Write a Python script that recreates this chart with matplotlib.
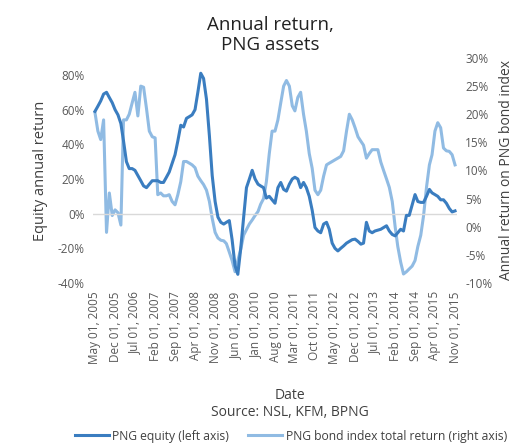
import numpy as np
import pandas as pd
import matplotlib
matplotlib.use("Agg")
import matplotlib.pyplot as plt
from matplotlib.ticker import FuncFormatter

plt.rcParams['font.family'] = ['Open Sans', 'DejaVu Sans']

# monthly series, May 2005 .. Nov 2015
dates = pd.date_range("2005-05-01", "2015-11-01", freq="MS")

# PNG equity annual return (%), left axis
equity = [59, 62, 65, 69, 70, 67, 64, 60, 57, 52,
          42, 30, 26, 26, 25, 22, 19, 16, 15, 17,
          19, 19, 19, 18, 18, 21, 24, 29, 34, 42,
          51, 50, 55, 56, 57, 60, 70, 81, 78, 66,
          45, 22, 7, -2, -5, -6, -5, -4, -15, -30,
          -35, -20, -2, 15, 20, 25, 20, 17, 16, 15,
          9, 10, 8, 6, 15, 18, 14, 13, 17, 20,
          21, 20, 15, 18, 15, 10, 2, -8, -10, -11,
          -6, -5, -9, -17, -20, -21.5, -20, -18.6, -17, -16,
          -15, -14.7, -16, -17.6, -17, -5, -10, -11, -10, -9.5,
          -9, -8, -7, -10, -12, -12.8, -11, -9, -10, -1,
          -1, 5, 11, 7, 6.5, 6.5, 10, 14, 12, 11,
          10, 8, 8, 6, 3, 1, 1.6]

# PNG bond index total return (%), right axis
bond = [20.3, 17, 15.5, 19, -1, 6, 2, 3, 2.5, 0.3,
        19, 19, 20, 22, 23.9, 19.7, 25, 24.8, 21, 17,
        16, 15.8, 5.7, 6, 5.5, 5.5, 5.7, 4.5, 3.9, 5.7,
        8, 11.6, 11.6, 11.3, 11, 10.5, 9, 8.2, 7.5, 6.5,
        4.5, 1.5, -1, -2, -2.4, -2.5, -3, -4.5, -6, -8,
        -6, -4, -1.5, -0.5, 0.5, 1.2, 2, 2.7, 4, 5,
        8, 13, 17, 17, 19, 22, 25, 26, 25, 21.5,
        20.6, 23, 23.9, 20, 17, 13, 10.4, 6.5, 5.7, 6.5,
        9, 11, 11.3, 11.6, 11.9, 12.2, 12.5, 13.5, 17, 20,
        19, 17.6, 16, 15.2, 14.5, 12.2, 13, 13.7, 13.7, 13.7,
        11.5, 10, 8.5, 7, 4.5, 0, -3.5, -6.3, -8.4, -8,
        -7.5, -7, -6, -3.5, -1.5, 2, 7, 11, 12.8, 17,
        18.5, 17.6, 14, 13.5, 13.4, 12.8, 11]

equity = np.array(equity) / 100
bond = np.array(bond) / 100

eq_color = "#3A7DC0"
bond_color = "#90BBE3"
txt_color = "#404040"
tick_color = "#595959"

fig = plt.figure(figsize=(5.13, 4.45), dpi=100)
ax = fig.add_axes([93/513, 1 - 283/445, 364/513, 225/445])
ax2 = ax.twinx()

ax.axhline(0, color="#D9D9D9", lw=1, zorder=1)
l2, = ax2.plot(dates, bond, color=bond_color, lw=2.2, label="PNG bond index total return (right axis)")
l1, = ax.plot(dates, equity, color=eq_color, lw=2.2, label="PNG equity (left axis)")
ax.set_zorder(ax2.get_zorder() + 1)
ax.patch.set_visible(False)

pad = pd.Timedelta(days=21)
ax.set_xlim(dates[0] - pad, dates[-1] + pad)
ax.set_ylim(-0.40, 0.898)
ax2.set_ylim(-0.10, 0.30)
ax.set_yticks(np.arange(-0.4, 0.81, 0.2))
ax2.set_yticks(np.arange(-0.10, 0.301, 0.05))
pct = FuncFormatter(lambda v, p: f"{v*100:.0f}%")
ax.yaxis.set_major_formatter(pct)
ax2.yaxis.set_major_formatter(pct)

tick_dates = dates[::7]
ax.set_xticks(tick_dates)
ax.set_xticklabels([d.strftime("%b %d, %Y") for d in tick_dates], rotation=90)

for a in (ax, ax2):
    for s in a.spines.values():
        s.set_visible(False)
    a.tick_params(length=0, labelsize=8.5, colors=tick_color)
ax.tick_params(axis="y", pad=6)
ax2.tick_params(axis="y", pad=6)
ax.tick_params(axis="x", pad=6)

ax.set_ylabel("Equity annual return", fontsize=10.5, color=txt_color, labelpad=7)
ax2.set_ylabel("Annual return on PNG bond index", fontsize=10, color=txt_color, labelpad=5)

fig.text(0.527, 0.965, "Annual return,\nPNG assets", ha="center", va="top",
         fontsize=13.5, color="#222222", linespacing=1.15)
fig.text(0.565, 0.112, "Date", ha="center", va="center", fontsize=10, color=txt_color)
fig.text(0.565, 0.072, "Source: NSL, KFM, BPNG", ha="center", va="center", fontsize=10, color=txt_color)

fig.legend(handles=[l1, l2], loc="center", bbox_to_anchor=(0.567, 0.02), ncol=2,
           frameon=False, fontsize=8.7, handlelength=2.8, columnspacing=1.6,
           handletextpad=0.3, labelcolor=txt_color, borderpad=0)

fig.savefig("out.png", dpi=100)
